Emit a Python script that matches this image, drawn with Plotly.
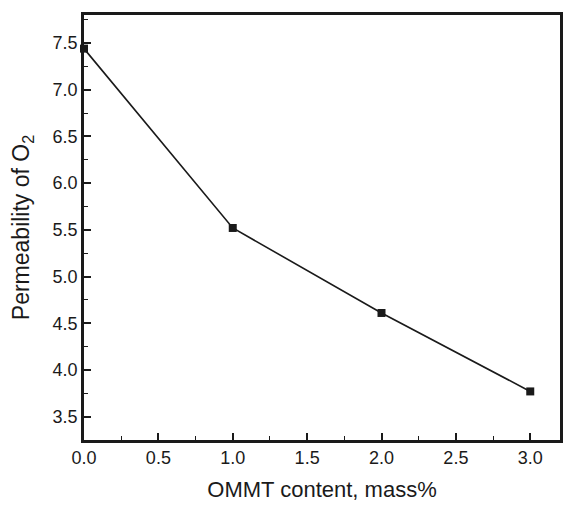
import plotly.graph_objects as go

ommt = [0.0, 1.0, 2.0, 3.0]
perm = [7.44, 5.52, 4.61, 3.77]
x_ticks = [0.0, 0.5, 1.0, 1.5, 2.0, 2.5, 3.0]
y_ticks = [3.5, 4.0, 4.5, 5.0, 5.5, 6.0, 6.5, 7.0, 7.5]

FONT = "Liberation Sans, Arial"
INK = "#1a1a1a"

fig = go.Figure()
fig.add_trace(go.Scatter(
    x=ommt, y=perm, mode="lines+markers",
    line=dict(color=INK, width=1.6),
    marker=dict(symbol="square", size=8, color=INK),
    cliponaxis=False,
))

axis_common = dict(
    showgrid=False, zeroline=False, showline=True, linecolor=INK, linewidth=2.5,
    mirror=True, ticks="inside", ticklen=7, tickwidth=1.8, tickcolor=INK,
    tickfont=dict(family=FONT, size=18, color=INK),
)
fig.update_xaxes(
    range=[0, 3.2], tickvals=x_ticks, ticktext=[f"{v:.1f}" for v in x_ticks],
    minor=dict(ticks="inside", ticklen=4, tickwidth=1.4, tickcolor=INK, dtick=0.25, tick0=0),
    title=dict(text="OMMT content, mass%", font=dict(family=FONT, size=22, color=INK), standoff=15),
    **axis_common,
)
fig.update_yaxes(
    range=[3.25, 7.8], tickvals=y_ticks, ticktext=[f"{v:.1f}" for v in y_ticks],
    minor=dict(ticks="inside", ticklen=4, tickwidth=1.4, tickcolor=INK, dtick=0.25, tick0=0),
    title=dict(text="Permeability of O<sub>2</sub>", font=dict(family=FONT, size=23, color=INK), standoff=17),
    **axis_common,
)
fig.update_layout(
    width=564, height=505, margin=dict(l=84, r=1, t=15, b=65),
    plot_bgcolor="white", paper_bgcolor="white", showlegend=False,
)
fig.write_html("out.html")
